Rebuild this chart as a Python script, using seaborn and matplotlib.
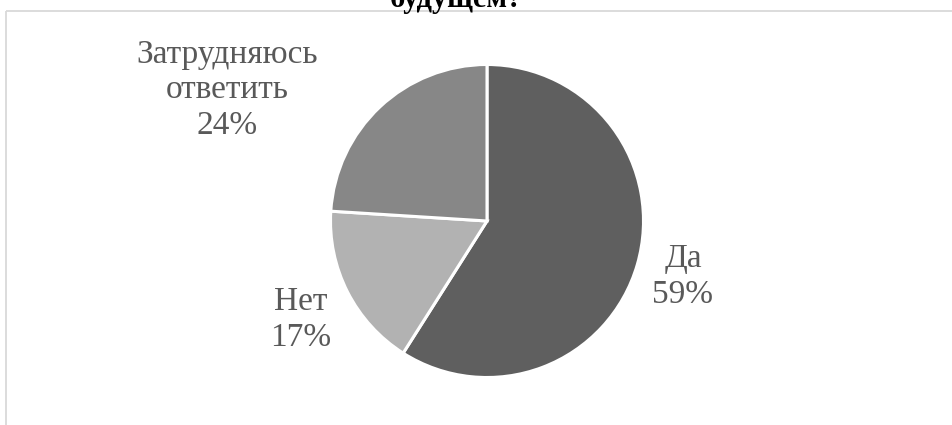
import matplotlib
matplotlib.use("Agg")
import matplotlib.pyplot as plt
import seaborn as sns

# survey answers
answers = ["Да", "Нет", "Затрудняюсь\nответить"]
shares = [59, 17, 24]
slice_colors = ["#5f5f5f", "#b2b2b2", "#878787"]

sns.set_theme(style="white")
plt.rcParams["font.family"] = ["Liberation Serif", "DejaVu Serif"]

W, H = 953, 425
fig = plt.figure(figsize=(W / 100, H / 100), dpi=100)
ax = fig.add_axes([0, 0, 1, 1])

# chart frame (only top and left edges are visible in the crop)
frame_col = "#d9d9d9"
ax.plot([6.5, 952], [H - 10.5, H - 10.5], color=frame_col, lw=1.3, solid_capstyle="butt")
ax.plot([6.5, 6.5], [0, H - 10.5], color=frame_col, lw=1.3, solid_capstyle="butt")

# last line of the title, cut by the top edge as in the source image
ax.text(456, H - 7, "будущем?", ha="center", va="baseline",
        fontsize=22, color="black", fontweight="bold")

wedges, texts = ax.pie(
    shares, colors=slice_colors, startangle=90, counterclock=False,
    center=(487, H - 221), radius=156.5, frame=True,
    wedgeprops=dict(edgecolor="white", linewidth=2.2),
)
ax.set_xlim(0, W)
ax.set_ylim(0, H)
ax.set_aspect("equal")
ax.axis("off")

# data labels (Excel "best fit" placement)
label_pos = [(683, H - 277), (301, H - 320), (227, H - 90)]
for name, val, (lx, ly) in zip(answers, shares, label_pos):
    ax.text(lx, ly, f"{name}\n{val}%", ha="center", va="center",
            fontsize=24, color="#595959", linespacing=1.22)

fig.savefig("out.png", dpi=100)
